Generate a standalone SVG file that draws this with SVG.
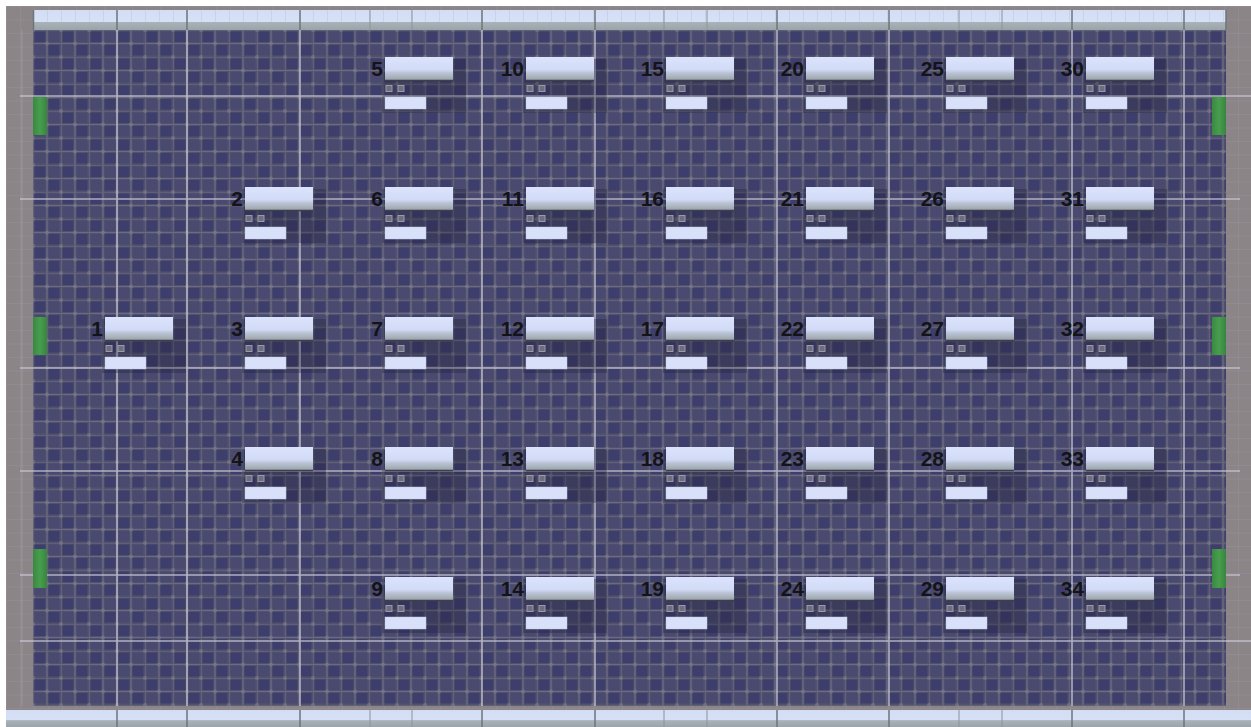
<svg xmlns="http://www.w3.org/2000/svg" width="1251" height="727" viewBox="0 0 1251 727">
<style>
.lbl{font-family:"Liberation Sans",Arial,sans-serif;font-weight:bold;font-size:21px;fill:#141418;text-anchor:end}
.box{fill:url(#boxGrad)}
.boxedge{stroke:#3e3e4e;stroke-width:1.5}
.shadow{fill:#1c1c34;opacity:0.3}
.bar{fill:#d8e0fa;stroke:#c4cce0;stroke-width:0.5}
.icon{fill:#6e6e80;stroke:#9a9aaa;stroke-width:1}
.major{stroke:#cacad6;stroke-width:1.6;opacity:0.8}
.rdiv{stroke:#6c747c;stroke-width:1.5}
.rdivt{stroke:#8c949c;stroke-width:1}
.green{fill:url(#greenGrad)}
</style>
<defs>
<linearGradient id="boxGrad" x1="0" y1="0" x2="0" y2="1">
<stop offset="0" stop-color="#dbe3fc"/>
<stop offset="0.55" stop-color="#d2dbf6"/>
<stop offset="0.7" stop-color="#bac3d4"/>
<stop offset="1" stop-color="#9aa4a8"/>
</linearGradient>
<linearGradient id="greenGrad" x1="0" y1="0" x2="1" y2="0">
<stop offset="0" stop-color="#3a8842"/>
<stop offset="0.5" stop-color="#479e4d"/>
<stop offset="1" stop-color="#38853e"/>
</linearGradient>
<linearGradient id="rulerGrad" x1="0" y1="0" x2="0" y2="1">
<stop offset="0" stop-color="#d3ddf4"/>
<stop offset="0.6" stop-color="#d6e0f6"/>
<stop offset="0.62" stop-color="#a8b2b8"/>
<stop offset="1" stop-color="#9aa4aa"/>
</linearGradient>
<pattern id="tex" x="33" y="30" width="28" height="27" patternUnits="userSpaceOnUse">
<rect width="28" height="27" fill="#52526e"/>
<rect x="1.5" y="1.5" width="11" height="10.5" fill="#3e3e6c"/>
<rect x="15.5" y="15" width="11" height="10.5" fill="#3e3e6c"/>
<rect x="15.5" y="1.5" width="11" height="10.5" fill="#4a4a70"/>
<rect x="1.5" y="15" width="11" height="10.5" fill="#4a4a70"/>
<path d="M0 0H28M0 13.5H28M0 0V27M14 0V27" stroke="#75758a" stroke-width="1.2" opacity="0.7"/>
<circle cx="14" cy="13.5" r="2" fill="#7e7e8c" opacity="0.6"/>
<circle cx="0" cy="0" r="2" fill="#7e7e8c" opacity="0.6"/>
<circle cx="28" cy="0" r="2" fill="#7e7e8c" opacity="0.6"/>
<circle cx="0" cy="27" r="2" fill="#7e7e8c" opacity="0.6"/>
<circle cx="28" cy="27" r="2" fill="#7e7e8c" opacity="0.6"/>
</pattern>
<pattern id="grayTex" x="6" y="6" width="14" height="13.5" patternUnits="userSpaceOnUse">
<rect width="14" height="13.5" fill="#8b8588"/>
<path d="M0 0H14M0 0V13.5" stroke="#98929a" stroke-width="1"/>
</pattern>
<pattern id="rulerTicks" x="33" y="0" width="14" height="30" patternUnits="userSpaceOnUse">
<line x1="0.5" y1="0" x2="0.5" y2="30" stroke="#bcc6d8" stroke-width="1"/>
</pattern>
<g id="node">
<rect class="shadow" x="-3" y="2" width="84" height="54"/>
<rect class="box" x="0" y="0" width="68" height="23"/>
<line class="boxedge" x1="0" y1="23.5" x2="68" y2="23.5"/>
<rect class="icon" x="1" y="28.5" width="6" height="6"/>
<rect class="icon" x="13" y="28.5" width="6" height="6"/>
<rect class="bar" x="0" y="40" width="41" height="12"/>
</g>
</defs>

<!-- frame -->
<rect x="0" y="0" width="1251" height="727" fill="#ffffff"/>
<rect x="6" y="6" width="1245" height="721" fill="url(#grayTex)"/>
<line x1="22" y1="30" x2="22" y2="706" stroke="#9c9699" stroke-width="1"/>

<!-- top ruler -->
<g id="top-ruler">
<rect x="33" y="10" width="1193" height="20" fill="url(#rulerGrad)"/>
<rect x="33" y="10" width="1193" height="12" fill="url(#rulerTicks)" opacity="0.5"/>
<g class="rdiv">
<line x1="33.5" y1="10" x2="33.5" y2="30"/><line x1="117" y1="10" x2="117" y2="30"/><line x1="187" y1="10" x2="187" y2="30"/>
<line x1="300" y1="10" x2="300" y2="30"/><line x1="482" y1="10" x2="482" y2="30"/><line x1="595" y1="10" x2="595" y2="30"/>
<line x1="777" y1="10" x2="777" y2="30"/><line x1="889" y1="10" x2="889" y2="30"/><line x1="1072" y1="10" x2="1072" y2="30"/>
<line x1="1184" y1="10" x2="1184" y2="30"/><line x1="1226" y1="10" x2="1226" y2="30"/>
</g>
<g class="rdivt">
<line x1="370" y1="10" x2="370" y2="30"/><line x1="412" y1="10" x2="412" y2="30"/><line x1="664" y1="10" x2="664" y2="30"/>
<line x1="707" y1="10" x2="707" y2="30"/><line x1="959" y1="10" x2="959" y2="30"/><line x1="1002" y1="10" x2="1002" y2="30"/>
</g>
</g>

<!-- bottom ruler -->
<g id="bottom-ruler">
<rect x="6" y="710" width="1245" height="17" fill="url(#rulerGrad)"/>
<g class="rdiv">
<line x1="117" y1="710" x2="117" y2="727"/><line x1="187" y1="710" x2="187" y2="727"/>
<line x1="300" y1="710" x2="300" y2="727"/><line x1="482" y1="710" x2="482" y2="727"/><line x1="595" y1="710" x2="595" y2="727"/>
<line x1="777" y1="710" x2="777" y2="727"/><line x1="889" y1="710" x2="889" y2="727"/><line x1="1072" y1="710" x2="1072" y2="727"/>
<line x1="1184" y1="710" x2="1184" y2="727"/>
</g>
<g class="rdivt">
<line x1="370" y1="710" x2="370" y2="727"/><line x1="412" y1="710" x2="412" y2="727"/><line x1="664" y1="710" x2="664" y2="727"/>
<line x1="707" y1="710" x2="707" y2="727"/><line x1="959" y1="710" x2="959" y2="727"/><line x1="1002" y1="710" x2="1002" y2="727"/>
</g>
</g>

<!-- grid area -->
<rect x="33" y="30" width="1193" height="676" fill="url(#tex)"/>
<g id="grid-lines">
<g class="major">
<line x1="117" y1="30" x2="117" y2="706"/><line x1="187" y1="30" x2="187" y2="706"/>
<line x1="300" y1="30" x2="300" y2="706"/><line x1="482" y1="30" x2="482" y2="706"/>
<line x1="595" y1="30" x2="595" y2="706"/><line x1="777" y1="30" x2="777" y2="706"/>
<line x1="889" y1="30" x2="889" y2="706"/><line x1="1072" y1="30" x2="1072" y2="706"/>
<line x1="1184" y1="30" x2="1184" y2="706"/>
<line x1="20" y1="96" x2="1251" y2="96"/><line x1="20" y1="199" x2="1240" y2="199"/>
<line x1="20" y1="368" x2="1240" y2="368"/><line x1="20" y1="471" x2="1240" y2="471"/>
<line x1="20" y1="575" x2="1240" y2="575"/><line x1="20" y1="641" x2="1251" y2="641"/>
</g>
</g>

<!-- green markers -->
<g id="markers">
<rect class="green" x="33" y="97" width="14" height="38"/>
<rect class="green" x="33" y="317" width="14" height="38"/>
<rect class="green" x="33" y="549" width="14" height="39"/>
<rect class="green" x="1212" y="97" width="14" height="38"/>
<rect class="green" x="1212" y="317" width="14" height="38"/>
<rect class="green" x="1212" y="549" width="14" height="39"/>
</g>

<g id="connectors"></g>

<!-- nodes -->
<g id="n1" transform="translate(105,317)"><use href="#node"/><text class="lbl" x="-2" y="19">1</text></g>
<g id="n2" transform="translate(245,187)"><use href="#node"/><text class="lbl" x="-2" y="19">2</text></g>
<g id="n3" transform="translate(245,317)"><use href="#node"/><text class="lbl" x="-2" y="19">3</text></g>
<g id="n4" transform="translate(245,447)"><use href="#node"/><text class="lbl" x="-2" y="19">4</text></g>
<g id="n5" transform="translate(385,57)"><use href="#node"/><text class="lbl" x="-2" y="19">5</text></g>
<g id="n6" transform="translate(385,187)"><use href="#node"/><text class="lbl" x="-2" y="19">6</text></g>
<g id="n7" transform="translate(385,317)"><use href="#node"/><text class="lbl" x="-2" y="19">7</text></g>
<g id="n8" transform="translate(385,447)"><use href="#node"/><text class="lbl" x="-2" y="19">8</text></g>
<g id="n9" transform="translate(385,577)"><use href="#node"/><text class="lbl" x="-2" y="19">9</text></g>
<g id="n10" transform="translate(526,57)"><use href="#node"/><text class="lbl" x="-2" y="19">10</text></g>
<g id="n11" transform="translate(526,187)"><use href="#node"/><text class="lbl" x="-2" y="19">11</text></g>
<g id="n12" transform="translate(526,317)"><use href="#node"/><text class="lbl" x="-2" y="19">12</text></g>
<g id="n13" transform="translate(526,447)"><use href="#node"/><text class="lbl" x="-2" y="19">13</text></g>
<g id="n14" transform="translate(526,577)"><use href="#node"/><text class="lbl" x="-2" y="19">14</text></g>
<g id="n15" transform="translate(666,57)"><use href="#node"/><text class="lbl" x="-2" y="19">15</text></g>
<g id="n16" transform="translate(666,187)"><use href="#node"/><text class="lbl" x="-2" y="19">16</text></g>
<g id="n17" transform="translate(666,317)"><use href="#node"/><text class="lbl" x="-2" y="19">17</text></g>
<g id="n18" transform="translate(666,447)"><use href="#node"/><text class="lbl" x="-2" y="19">18</text></g>
<g id="n19" transform="translate(666,577)"><use href="#node"/><text class="lbl" x="-2" y="19">19</text></g>
<g id="n20" transform="translate(806,57)"><use href="#node"/><text class="lbl" x="-2" y="19">20</text></g>
<g id="n21" transform="translate(806,187)"><use href="#node"/><text class="lbl" x="-2" y="19">21</text></g>
<g id="n22" transform="translate(806,317)"><use href="#node"/><text class="lbl" x="-2" y="19">22</text></g>
<g id="n23" transform="translate(806,447)"><use href="#node"/><text class="lbl" x="-2" y="19">23</text></g>
<g id="n24" transform="translate(806,577)"><use href="#node"/><text class="lbl" x="-2" y="19">24</text></g>
<g id="n25" transform="translate(946,57)"><use href="#node"/><text class="lbl" x="-2" y="19">25</text></g>
<g id="n26" transform="translate(946,187)"><use href="#node"/><text class="lbl" x="-2" y="19">26</text></g>
<g id="n27" transform="translate(946,317)"><use href="#node"/><text class="lbl" x="-2" y="19">27</text></g>
<g id="n28" transform="translate(946,447)"><use href="#node"/><text class="lbl" x="-2" y="19">28</text></g>
<g id="n29" transform="translate(946,577)"><use href="#node"/><text class="lbl" x="-2" y="19">29</text></g>
<g id="n30" transform="translate(1086,57)"><use href="#node"/><text class="lbl" x="-2" y="19">30</text></g>
<g id="n31" transform="translate(1086,187)"><use href="#node"/><text class="lbl" x="-2" y="19">31</text></g>
<g id="n32" transform="translate(1086,317)"><use href="#node"/><text class="lbl" x="-2" y="19">32</text></g>
<g id="n33" transform="translate(1086,447)"><use href="#node"/><text class="lbl" x="-2" y="19">33</text></g>
<g id="n34" transform="translate(1086,577)"><use href="#node"/><text class="lbl" x="-2" y="19">34</text></g>
</svg>
